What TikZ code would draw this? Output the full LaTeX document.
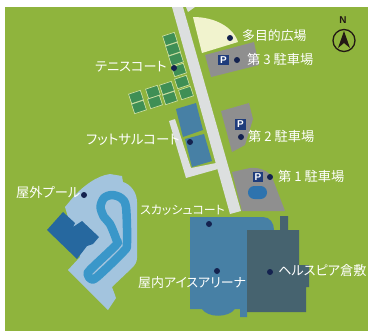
\documentclass[tikz,border=0pt]{standalone}
\usepackage{fontspec}
\setsansfont{Liberation Sans}
\newfontfamily\jp{Noto Sans CJK JP}[RawFeature={+palt}]
\definecolor{grass}{HTML}{8FB43D}
\definecolor{roadc}{HTML}{DCDFDF}
\definecolor{parkc}{HTML}{8F8F8F}
\definecolor{plazac}{HTML}{F1F3CE}
\definecolor{courtg}{HTML}{3F8F55}
\definecolor{courtl}{HTML}{D3E3A8}
\definecolor{hallc}{HTML}{4780A5}
\definecolor{helsc}{HTML}{46636F}
\definecolor{poolc}{HTML}{A3C4DE}
\definecolor{waterc}{HTML}{3A97C9}
\definecolor{bldgc}{HTML}{26689F}
\definecolor{pondc}{HTML}{2E73AE}
\definecolor{navyc}{HTML}{14224F}
\definecolor{pboxc}{HTML}{1F3C7B}
\definecolor{northc}{HTML}{231815}
\tikzset{
  lab/.style={text=white,anchor=west,inner sep=0pt,font=\jp\fontsize{#1}{14}\selectfont},
  dot/.style={circle,fill=navyc,inner sep=0pt,minimum size=6bp},
  pbox/.style={fill=pboxc,text=white,inner sep=0pt,minimum width=10.5bp,minimum height=10.5bp,font=\sffamily\bfseries\fontsize{10}{10}\selectfont},
}
\newcommand{\courtat}[2]{%
  \fill[courtg,draw=courtl,line width=.6bp]
   ({#1+5.89+1.55},{#2-1.92+4.75}) --
   ({#1+5.89-1.55},{#2-1.92-4.75}) --
   ({#1-5.89-1.55},{#2+1.92-4.75}) --
   ({#1-5.89+1.55},{#2+1.92+4.75}) -- cycle;}
\begin{document}
\begin{tikzpicture}[x=1bp,y=-1bp]
\useasboundingbox (0,0) rectangle (368,331);
\fill[white] (0,0) rectangle (368,331);
\fill[grass] (5,7) rectangle (368,331);
% road
\fill[roadc] (172,7) -- (183,7) -- (241,211) -- (230,214) -- cycle;
\fill[roadc] (186,7) -- (195,7) -- (188,12) -- cycle;
% plaza
\fill[plazac] (193,17) .. controls (215,17) and (233,27) .. (238,42) -- (202,53) -- cycle;
% parking 3
\fill[parkc] (205,55) -- (254,42) -- (259,65) -- (211,77) -- cycle;
% tennis
\foreach \cx/\cy in {170/39,173/49,176/59,179/70,182/82,186/93,136/97,139/107,153/92,155/102,167/88,170/98}{\courtat{\cx}{\cy}}
% futsal
\fill[roadc] (169,121) -- (175,119) -- (191,168) -- (216,163) -- (218,169) -- (186,178) -- cycle;
\fill[hallc] (176,109) -- (196,103) -- (203,130) -- (183,137) -- cycle;
\fill[hallc] (185,139) -- (204,134) -- (212,161) -- (192,167) -- cycle;
% parking 2
\fill[parkc] (221,111) -- (249,103) -- (253,119) -- (245,145) -- (232,152) -- cycle;
% parking 1
\fill[parkc] (232,172) -- (250,168) .. controls (260,167) and (268,171) .. (272,177) -- (285,211) -- (242,211) -- cycle;
\fill[pondc,rounded corners=6.4bp] (248,186) rectangle (267,199);
% pool
\fill[poolc] (65,207) -- (75,195) .. controls (84,186) and (96,176) .. (110,174) -- (122,176) -- (123,182) .. controls (130,184) and (137,192) .. (137,202) -- (137,258) .. controls (137,262) and (135,265) .. (132,268) -- (112,287) -- (115,295) -- (116,298) -- (108,310) -- (68,270) -- (80,257) -- cycle;
\draw[waterc,line width=8.5bp,line join=round] plot[smooth cycle,tension=.5] coordinates {(112,195) (121,198) (126,207) (127,243) (123.5,251.5) (97,277) (91,279) (88,275) (90,270) (116,245) (116.5,240) (110,224) (104,217) (100.5,207) (104,198)};
\fill[bldgc] (63,212) -- (75,223) -- (73,227) -- (82,221) -- (99,237) -- (93,244) -- (87,246) -- (77,259) -- (47,230) -- cycle;
% arena
\fill[hallc] (190,217) -- (263,217) .. controls (270,217) and (274,223) .. (274,230) -- (247,230) -- (247,317) -- (240,317) -- (240,309) -- (235,309) .. controls (228,318) and (208,318) .. (202,309) -- (190,309) -- cycle;
\fill[helsc] (247,230) -- (280,230) -- (280,216) -- (288,216) -- (288,230) -- (299,230) -- (299,265) -- (309,265) -- (309,287) -- (306,287) -- (306,312) -- (247,312) -- cycle;
% north
\node[inner sep=0pt,text=northc,font=\sffamily\bfseries\fontsize{10}{10}\selectfont] (north) at (343,20) {N};
\draw[northc,line width=1.3bp] (344,40.5) circle (11);
\fill[northc] (344,31) -- (350,48) -- (344,43) -- (338,48) -- cycle;
% P marks
\node[pbox] (p3) at (223.5,60) {P};
\node[pbox] (p2) at (240.5,124.5) {P};
\node[pbox] (p1) at (258,177) {P};
% dots
\node[dot] (d1) at (230,38) {};
\node[dot] (d2) at (237,60) {};
\node[dot] (d3) at (174,68) {};
\node[dot] (d4) at (241,137) {};
\node[dot] (d5) at (270,177) {};
\node[dot] (d6) at (190,142) {};
\node[dot] (d7) at (84,195) {};
\node[dot] (d8) at (209,224) {};
\node[dot] (d9) at (217,271) {};
\node[dot] (d10) at (270,272) {};
% labels
\node[lab=12.9] (l1) at (242,36) {多目的広場};
\node[lab=13.3] (l2) at (247,59) {第 3 駐車場};
\node[lab=13.2] (l3) at (95,67) {テニスコート};
\node[lab=13.3] (l4) at (248,136) {第 2 駐車場};
\node[lab=13.3] (l5) at (278,176) {第 1 駐車場};
\node[lab=13.5] (l6) at (86,140) {フットサルコート};
\node[lab=13.3] (l7) at (16,192) {屋外プール};
\node[lab=12] (l8) at (140,210) {スカッシュコート};
\node[lab=13] (l9) at (138,283) {屋内アイスアリーナ};
\node[lab=13.2] (l10) at (278,270) {ヘルスピア倉敷};
\end{tikzpicture}
\end{document}
